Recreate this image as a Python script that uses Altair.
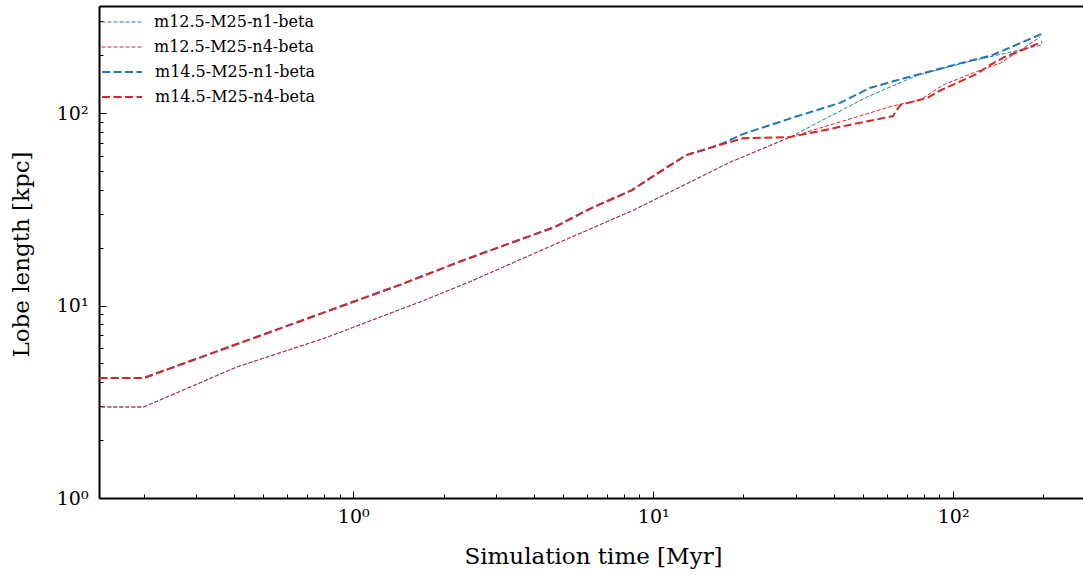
import altair as alt
import pandas as pd

thin_names = ["m12.5-M25-n1-beta", "m12.5-M25-n4-beta"]
thick_names = ["m14.5-M25-n1-beta", "m14.5-M25-n4-beta"]
pair_colors = ["#1f77b4", "#d62728"]

# m12.5 runs: shared early evolution
thin_common_t = [0.1, 0.2, 0.41, 0.81, 1.74, 2.45, 4.9, 8.6, 17.8, 28.6]
thin_common_L = [2.97, 2.97, 4.8, 6.8, 10.7, 13.3, 21.4, 31.3, 55, 75]
thin_n1_t = [51.5, 75.9, 111, 198]
thin_n1_L = [121, 157, 184, 226]
thin_n4_t = [63, 77.6, 92.6, 123, 144, 195]
thin_n4_L = [109, 117, 140, 167, 182, 248]
# m14.5 runs: shared early evolution
thick_common_t = [0.1, 0.2, 1.43, 2.33, 4.7, 6.2, 8.5, 10.2, 12.9, 16.5]
thick_common_L = [4.2, 4.2, 12.8, 17.2, 25.6, 32, 39.8, 48, 60.5, 68]
thick_n1_t = [20, 30, 42, 52.7, 69, 101, 135, 200]
thick_n1_L = [78, 96, 113, 135, 152, 178, 200, 260]
thick_n4_t = [20, 28.6, 63, 66.6, 82, 90.5, 120, 133, 148, 198]
thick_n4_L = [74, 75, 96.5, 110, 120, 131, 160, 178, 195, 234]

x_major = [1, 10, 100]
x_minor = [0.2, 0.3, 0.4, 0.5, 0.6, 0.7, 0.8, 0.9, 2, 3, 4, 5, 6, 7, 8, 9,
           20, 30, 40, 50, 60, 70, 80, 90, 200]
y_major = [1, 10, 100]
y_minor = [2, 3, 4, 5, 6, 7, 8, 9, 20, 30, 40, 50, 60, 70, 80, 90, 200, 300]

x_domain = [0.142, 271]
y_domain = [1, 360]

rows = []
def add(name, group, ts, Ls):
    for t, L in zip(ts, Ls):
        rows.append({"t": t, "L": L, "series": name, "group": group})

add(thin_names[0], "thin", thin_common_t + thin_n1_t, thin_common_L + thin_n1_L)
add(thin_names[1], "thin", thin_common_t + thin_n4_t, thin_common_L + thin_n4_L)
add(thick_names[0], "thick", thick_common_t + thick_n1_t, thick_common_L + thick_n1_L)
add(thick_names[1], "thick", thick_common_t + thick_n4_t, thick_common_L + thick_n4_L)
df = pd.DataFrame(rows)

FONT = "DejaVu Serif"
W, H = 984, 492
label_expr = "datum.value == 1 ? '10\u2070' : datum.value == 10 ? '10\u00b9' : '10\u00b2'"

def xs():
    return alt.Scale(type="log", domain=x_domain, nice=False)

def ys():
    return alt.Scale(type="log", domain=y_domain, nice=False)

def legend(y, width, dash):
    return alt.Legend(
        orient="none", legendX=2, legendY=y, title=None,
        labelFont=FONT, labelFontSize=16, labelColor="black",
        symbolType="stroke", symbolSize=1600, labelOffset=12,
        clipHeight=16, rowPadding=9, padding=0,
        symbolStrokeWidth=width, symbolDash=dash,
    )

base = alt.Chart(df)

thin = base.transform_filter(alt.datum.group == "thin").mark_line(
    clip=True, strokeWidth=1, strokeDash=[4, 2]
).encode(
    x=alt.X("t:Q", scale=xs(), axis=alt.Axis(
        orient="bottom", values=x_major, labelExpr=label_expr, ticks=False, tickSize=0,
        grid=False, domain=True, domainColor="black", domainWidth=2, labelPadding=9,
        labelFont=FONT, labelFontSize=19, labelColor="black",
        title="Simulation time [Myr]", titleFont=FONT, titleFontSize=23, titleFontWeight="normal",
        titleColor="black", titleX=494, titleY=58, titleAlign="center", titleBaseline="middle")),
    y=alt.Y("L:Q", scale=ys(), axis=alt.Axis(
        orient="left", values=y_major, labelExpr=label_expr, ticks=False, tickSize=0,
        grid=False, domain=True, domainColor="black", domainWidth=2, labelPadding=11,
        labelFont=FONT, labelFontSize=19, labelColor="black",
        title="Lobe length [kpc]", titleFont=FONT, titleFontSize=23, titleFontWeight="normal",
        titleColor="black", titleX=-78, titleY=248, titleAngle=270, titleAlign="center",
        titleBaseline="middle")),
    stroke=alt.Stroke("series:N", scale=alt.Scale(domain=thin_names, range=pair_colors),
                      legend=legend(8, 1, [4, 2])),
)

thick = base.transform_filter(alt.datum.group == "thick").mark_line(
    clip=True, strokeWidth=2, strokeDash=[8, 3.5]
).encode(
    x=alt.X("t:Q", scale=xs(), axis=None),
    y=alt.Y("L:Q", scale=ys(), axis=None),
    color=alt.Color("series:N", scale=alt.Scale(domain=thick_names, range=pair_colors),
                    legend=legend(58, 2, [8, 3.5])),
)

def tick_layer(xvals, yvals, size):
    return base.mark_line(opacity=0).encode(
        x=alt.X("t:Q", scale=xs(), axis=alt.Axis(
            orient="top", offset=-H, values=xvals, labels=False, domain=False, grid=False,
            ticks=True, tickSize=size, tickColor="black", tickWidth=1, title=None)),
        y=alt.Y("L:Q", scale=ys(), axis=alt.Axis(
            orient="right", offset=-W, values=yvals, labels=False, domain=False, grid=False,
            ticks=True, tickSize=size, tickColor="black", tickWidth=1, title=None)),
        detail="series:N",
    )

minor = tick_layer(x_minor, y_minor, 4)
major = tick_layer(x_major, y_major, 7)

top_spine = base.mark_line(opacity=0).encode(
    x=alt.X("t:Q", scale=xs(), axis=alt.Axis(
        orient="top", values=x_major, labels=False, ticks=False, grid=False,
        domain=True, domainColor="black", domainWidth=2, title=None)),
    y=alt.Y("L:Q", scale=ys(), axis=None),
    detail="series:N",
)

chart = alt.layer(thin, thick, minor, major, top_spine).resolve_axis(
    x="independent", y="independent"
).resolve_scale(stroke="independent", color="independent").resolve_legend(
    stroke="independent", color="independent"
).properties(
    width=W, height=H,
    autosize=alt.AutoSizeParams(type="none"),
    padding={"left": 99, "top": 6, "right": 0, "bottom": 77},
    background="white",
).configure_view(stroke=None)

chart.save("out.html", embed_options={"renderer": "svg", "actions": False})
